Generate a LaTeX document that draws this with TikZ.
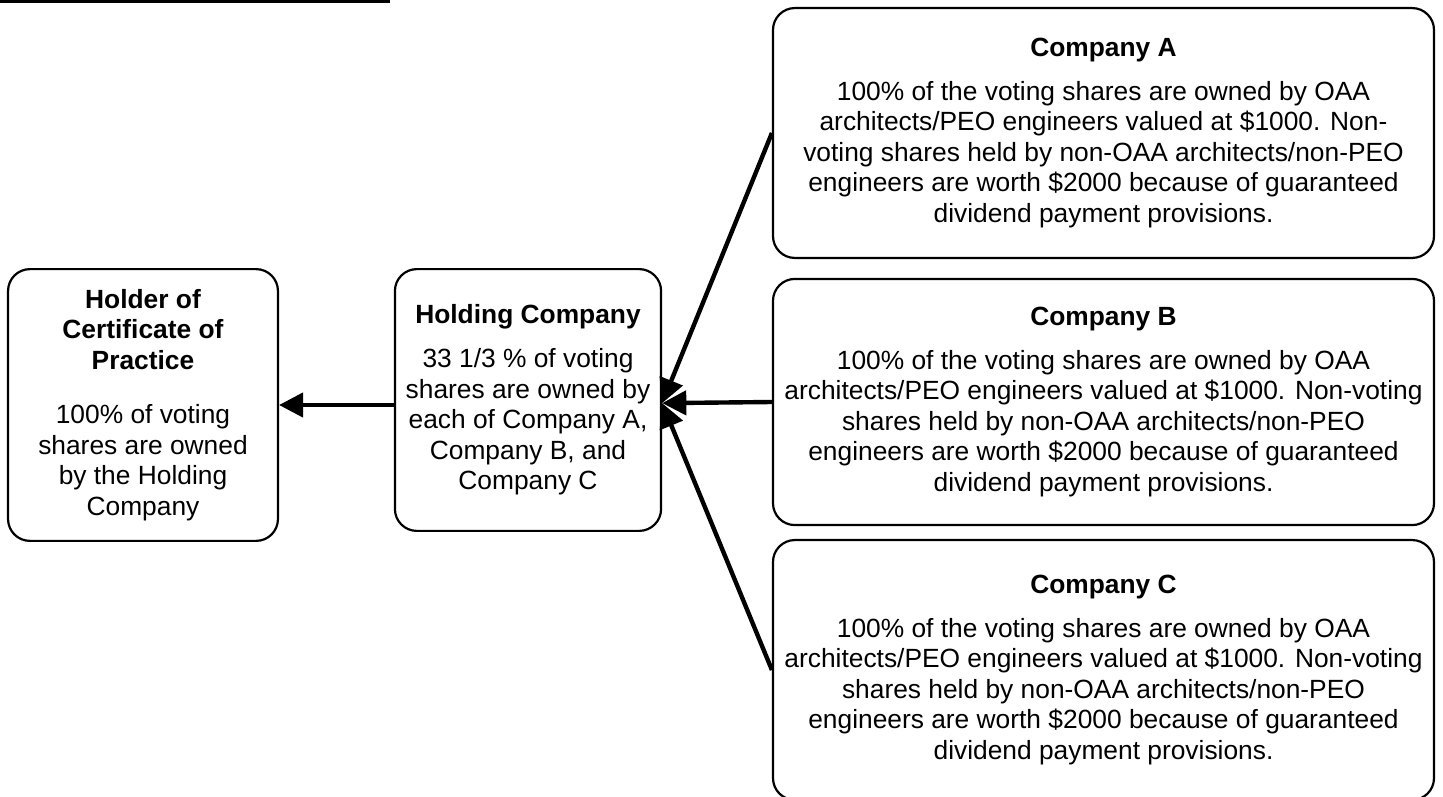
\documentclass[tikz,border=0pt]{standalone}
\usepackage{fontspec}
\setmainfont{Liberation Sans}
\usetikzlibrary{arrows.meta}

\begin{document}
\begin{tikzpicture}[x=0.016cm,y=-0.016cm,
    box/.style={draw,line width=1pt,rounded corners=0.35cm,align=center,
      font=\fontsize{12}{13.9}\selectfont,inner sep=0pt},
    owns/.style={line width=2pt,-{Triangle[length=11pt,width=11pt]}}]
    \useasboundingbox (0,0) rectangle (1443,797);
    \fill (0,0) rectangle (390,2.5);

    \node[box,minimum width=4.32cm,minimum height=4.35cm] (holder) at (143,405)
      {\textbf{Holder of}\\\textbf{Certificate of}\\\textbf{Practice}\\[11pt]
       100\% of voting\\shares are owned\\by the Holding\\Company};
    \node[box,minimum width=4.26cm,minimum height=4.19cm] (holding) at (528,400)
      {\textbf{Holding Company}\\[6pt]
       33 1/3 \% of voting\\shares are owned by\\each of Company A,\\Company B, and\\Company C};
    \node[box,minimum width=10.58cm,minimum height=4cm] (compA) at (1103.5,133)
      {\textbf{Company A}\\[6pt]
       100\% of the voting shares are owned by OAA\\
       architects/PEO engineers valued at \$1000. Non-\\
       voting shares held by non-OAA architects/non-PEO\\
       engineers are worth \$2000 because of guaranteed\\
       dividend payment provisions.};
    \node[box,minimum width=10.58cm,minimum height=3.94cm] (compB) at (1103.5,402)
      {\textbf{Company B}\\[6pt]
       100\% of the voting shares are owned by OAA\\
       architects/PEO engineers valued at \$1000. Non-voting\\
       shares held by non-OAA architects/non-PEO\\
       engineers are worth \$2000 because of guaranteed\\
       dividend payment provisions.};
    \node[box,minimum width=10.58cm,minimum height=4.16cm] (compC) at (1103.5,670)
      {\textbf{Company C}\\[6pt]
       100\% of the voting shares are owned by OAA\\
       architects/PEO engineers valued at \$1000. Non-voting\\
       shares held by non-OAA architects/non-PEO\\
       engineers are worth \$2000 because of guaranteed\\
       dividend payment provisions.};

    \coordinate (hub) at ([yshift=-0.05cm]holding.east);
    \draw[owns] (holding.west |- holder.east) -- (holder.east);
    \draw[owns] (compA.west) -- (hub);
    \draw[owns] (compB.west) -- (hub);
    \draw[owns] (compC.west) -- (hub);
\end{tikzpicture}
\end{document}
